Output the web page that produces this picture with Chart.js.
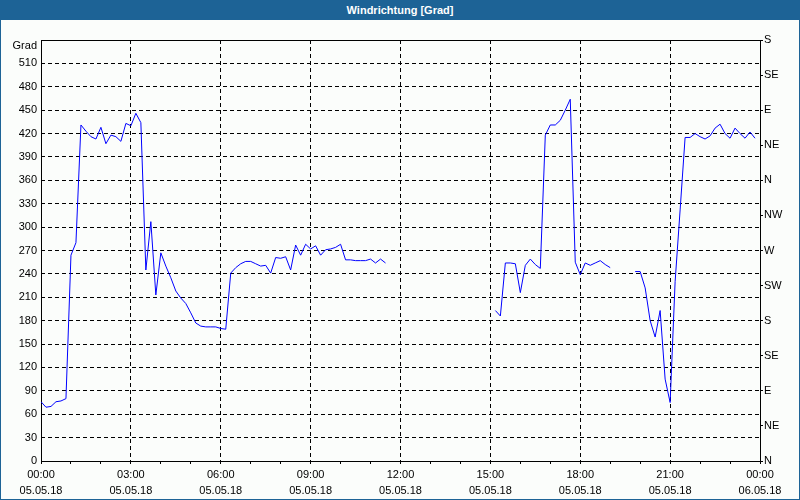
<!DOCTYPE html>
<html>
<head>
<meta charset="utf-8">
<script src="https://cdn.jsdelivr.net/npm/chart.js@4"></script>
<style>
  html, body { margin: 0; padding: 0; background: #ffffff; }
  .frame {
    position: relative;
    width: 800px;
    height: 500px;
    box-sizing: border-box;
    background: #fbfdfb;
    border-left: 1px solid #1d6396;
    border-right: 1px solid #1d6396;
    border-bottom: 1px solid #1d6396;
  }
  .title {
    position: absolute;
    left: -1px;
    top: 0;
    width: 800px;
    height: 20px;
    background: #1d6396;
    color: #ffffff;
    font: bold 11px "Liberation Sans", sans-serif;
    line-height: 20px;
    text-align: center;
  }
  canvas { position: absolute; left: -1px; top: 0; }
</style>
</head>
<body>
<div class="frame">
  <div class="title">Windrichtung [Grad]</div>
  <canvas class="chart" width="800" height="500"></canvas>
</div>
<script>
// 10-Minuten-Werte, drei Abschnitte mit Lücken dazwischen
const morningStart = 0; // 00:00
const morningValues = [
  76, 69, 70, 76, 77, 80, 264, 280, 431, 423,
  416, 413, 428, 407, 418, 416, 410, 433, 430, 446,
  434, 245, 307, 213, 267, 250, 235, 218, 209, 202,
  190, 177, 173, 172, 172, 172, 170, 169, 241, 248,
  253, 256, 256, 253, 250, 251, 241, 261, 260, 262,
  245, 277, 264, 278, 272, 276, 264, 271, 272, 274,
  278, 258, 258, 257, 257, 257, 259, 254, 259, 254,
];
const afternoonStart = 91; // 15:10
const afternoonValues = [
  193, 186, 254, 254, 253, 216, 251, 259, 252, 247,
  418, 431, 431, 437, 450, 464, 255, 239, 254, 251,
  254, 257, 252, 248,
];
const eveningStart = 119; // 19:50
const eveningValues = [
  243, 243, 222, 180, 159, 193, 105, 75, 230, 322,
  415, 415, 420, 416, 413, 417, 427, 432, 420, 414,
  427, 420, 414, 422, 414,
];

const timeLabels = ["00:00", "03:00", "06:00", "09:00", "12:00", "15:00", "18:00", "21:00", "00:00"];
const dateLabels = ["05.05.18", "05.05.18", "05.05.18", "05.05.18", "05.05.18", "05.05.18", "05.05.18", "05.05.18", "06.05.18"];
const compassLabels = ["N", "NE", "E", "SE", "S", "SW", "W", "NW", "N", "NE", "E", "SE", "S"];
const unitLabel = "Grad";

// Punkte bauen: x in Minuten, null trennt die Abschnitte
const points = [];
const addSegment = (start, values) => {
  values.forEach((v, idx) => {
    points.push({ x: (start + idx) * 10, y: v });
  });
  points.push({ x: (start + values.length) * 10 - 5, y: null });
};
addSegment(morningStart, morningValues);
addSegment(afternoonStart, afternoonValues);
addSegment(eveningStart, eveningValues);

Chart.defaults.font.family = "'Liberation Sans', sans-serif";
Chart.defaults.font.size = 11;
Chart.defaults.color = "#000000";

// Rahmen um den Plotbereich + Einheit oben links
const framePlugin = {
  id: "plotFrame",
  beforeDatasetsDraw(chart) {
    const { ctx, chartArea: a } = chart;
    ctx.save();
    ctx.strokeStyle = "#000000";
    ctx.lineWidth = 1;
    ctx.strokeRect(a.left + 0.5, a.top + 0.5, a.right - a.left, a.bottom - a.top);
    ctx.fillStyle = "#000000";
    ctx.font = "11px 'Liberation Sans', sans-serif";
    ctx.textAlign = "right";
    ctx.textBaseline = "middle";
    ctx.fillText(unitLabel, a.left - 4, a.top + 6);
    ctx.restore();
  },
};

const ctx = document.querySelector(".chart");
const myChart = new Chart(ctx, {
  type: "line",
  data: {
    datasets: [
      {
        data: points,
        borderColor: "#0000ff",
        borderWidth: 1,
        pointRadius: 0,
        tension: 0,
        spanGaps: false,
      },
    ],
  },
  options: {
    responsive: false,
    animation: false,
    layout: { padding: { top: 40, left: 0, right: 0, bottom: 0 } },
    plugins: { legend: { display: false }, tooltip: { enabled: false } },
    scales: {
      x: {
        type: "linear",
        min: 0,
        max: 1440,
        afterFit: (scale) => { scale.height = 39; },
        border: { display: false, dash: [4, 3] },
        grid: {
          color: (c) => {
            const v = c.tick ? c.tick.value : 0;
            return v % 180 === 0 && v !== 0 && v !== 1440 ? "#000000" : "transparent";
          },
          tickColor: "#000000",
          tickLength: 3,
        },
        ticks: {
          stepSize: 60,
          autoSkip: false,
          maxRotation: 0,
          padding: 3,
          font: { lineHeight: 1.45 },
          callback: (v) => (v % 180 === 0 ? [timeLabels[v / 180], dateLabels[v / 180]] : ""),
        },
      },
      y: {
        position: "left",
        min: 0,
        max: 540,
        afterFit: (scale) => { scale.width = 41; },
        border: { display: false, dash: [4, 3] },
        grid: {
          drawTicks: false,
          color: (c) => {
            const v = c.tick ? c.tick.value : 0;
            return v !== 0 && v !== 540 ? "#000000" : "transparent";
          },
        },
        ticks: {
          stepSize: 30,
          padding: 4,
          callback: (v) => (v === 540 ? "" : v),
        },
      },
      y2: {
        position: "right",
        min: 0,
        max: 540,
        afterFit: (scale) => { scale.width = 40; },
        border: { display: false },
        grid: {
          drawOnChartArea: false,
          color: "#000000",
          tickColor: "#000000",
          tickLength: 3,
        },
        ticks: {
          stepSize: 45,
          padding: 1,
          callback: (v, i) => compassLabels[i],
        },
      },
    },
  },
  plugins: [framePlugin],
});
</script>
</body>
</html>
